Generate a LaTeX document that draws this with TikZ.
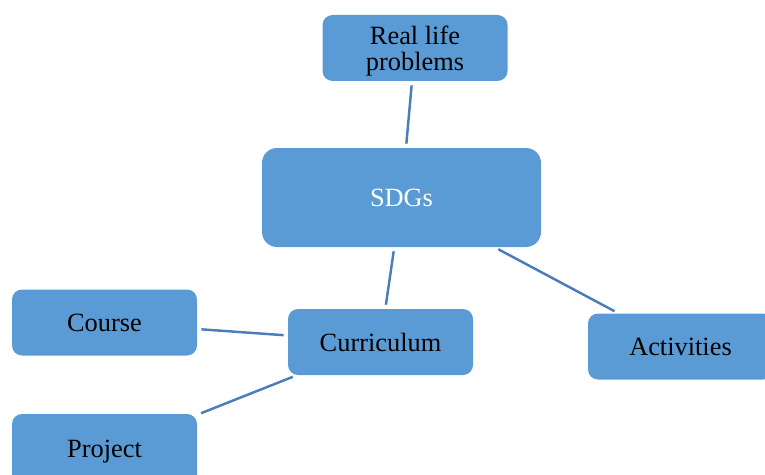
\documentclass[tikz,border=0pt]{standalone}
\usepackage{fontspec}
\setmainfont{Liberation Serif}
\usepackage{tikz}
\definecolor{boxblue}{HTML}{5B9BD5}
\definecolor{lineblue}{HTML}{4A7EBB}

\begin{document}
\begin{tikzpicture}[shorten >=0.08cm,shorten <=0.08cm]
  \tikzstyle{box}=[rectangle,rounded corners=0.2cm,fill=boxblue,inner sep=0pt,
    minimum width=3.7cm,minimum height=1.32cm,align=center,
    font=\fontsize{15}{15}\selectfont]
  \tikzstyle{link}=[draw=lineblue,line width=1.4pt]
  \useasboundingbox (0,0) rectangle (15.3,-9.5);

  \node[box] (real) at (8.3,-0.96) {\rule{0pt}{0.48cm}Real life\\problems};
  \node[box,minimum width=5.58cm,minimum height=1.98cm,rounded corners=0.3cm,
    text=white] (sdgs) at (8.03,-3.95) {SDGs};
  \node[box] (course) at (2.09,-6.45) {Course};
  \node[box] (curr) at (7.61,-6.84) {Curriculum};
  \node[box] (act) at (13.61,-6.93) {Activities};
  \node[box,minimum height=1.5cm] (proj) at (2.09,-9.03) {Project};

  \draw[link] (real) -- (sdgs);
  \draw[link] (sdgs) -- (curr);
  \draw[link] (sdgs) -- (act);
  \draw[link] (curr) -- (course);
  \draw[link] (curr) -- (proj);
\end{tikzpicture}
\end{document}
